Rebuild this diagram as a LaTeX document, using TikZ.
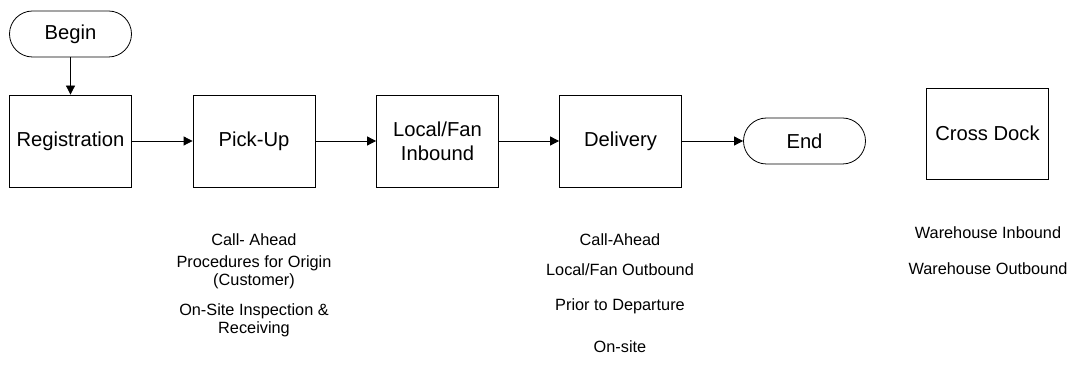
\documentclass[tikz,border=0pt]{standalone}
\usepackage{fontspec}
\setmainfont{Liberation Sans}
\usetikzlibrary{arrows.meta}
\begin{document}
\begin{tikzpicture}[x=1pt,y=-1pt,
  proc/.style={draw,line width=0.8pt,minimum width=122pt,minimum height=92pt,inner sep=0pt,align=center,font=\fontsize{20.2}{24}\selectfont},
  term/.style={draw,line width=0.8pt,minimum width=122pt,minimum height=46pt,inner sep=0pt,rounded corners=23pt,font=\fontsize{20.2}{22}\selectfont},
  lbl/.style={inner sep=0pt,align=center,font=\fontsize{16.3}{18}\selectfont},
  flow/.style={line width=0.8pt,-{Triangle[length=9pt,width=9pt]}}]
\useasboundingbox (0,0) rectangle (1072,379);
\node[term] (begin) at (70.5,34) {Begin};
\node[proc] (reg) at (70.5,141) {Registration};
\node[proc] (pick) at (254,141) {Pick-Up};
\node[proc] (local) at (437.5,141) {Local/Fan\\Inbound};
\node[proc] (deliv) at (620.5,141) {Delivery};
\node[term] (end) at (804.5,141) {End};
\node[proc,minimum height=91pt] (cross) at (987.5,133.5) {Cross Dock};
\draw[flow] (begin) -- (reg);
\draw[flow] (reg) -- (pick);
\draw[flow] (pick) -- (local);
\draw[flow] (local) -- (deliv);
\draw[flow] (deliv) -- (end);
\node[lbl] (ca1) at (254,240) {Call- Ahead};
\node[lbl] (proc1) at (254,272) {Procedures for Origin\\(Customer)};
\node[lbl] (ons) at (254,320) {On-Site Inspection \&\\Receiving};
\node[lbl] (ca2) at (620,240) {Call-Ahead};
\node[lbl] (lfo) at (620,270) {Local/Fan Outbound};
\node[lbl] (ptd) at (620,306) {Prior to Departure};
\node[lbl] (onsite) at (620,347) {On-site};
\node[lbl] (whi) at (988,233) {Warehouse Inbound};
\node[lbl] (who) at (988,269) {Warehouse Outbound};
\end{tikzpicture}
\end{document}
